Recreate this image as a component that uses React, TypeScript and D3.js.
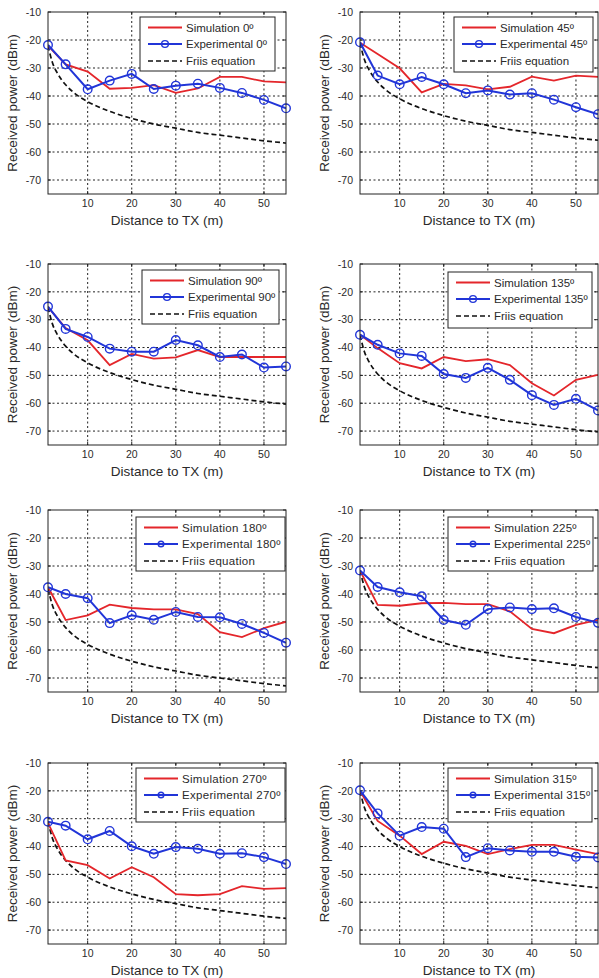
import React from "react";
import * as d3 from "d3";

// ---------- data ----------
const angles = [0, 45, 90, 135, 180, 225, 270, 315];
const distances = [1, 5, 10, 15, 20, 25, 30, 35, 40, 45, 50, 55];
const friisDistances = [1, 2, 3, 4, 5, 7, 10, 15, 20, 25, 30, 35, 40, 45, 50, 55];
const xTicks = [10, 20, 30, 40, 50];
const yTicks = [-10, -20, -30, -40, -50, -60, -70];

const simulationValues = [
  [-22, -28.7, -31.3, -37.4, -37.1, -36.1, -38.9, -37.3, -33.2, -33.2, -34.8, -35.1],
  [-21, -25, -30.1, -38.7, -35.7, -36.2, -37.6, -36.7, -33.1, -34.5, -32.7, -33.2],
  [-25.5, -33, -37.4, -46.3, -42.3, -44.0, -43.5, -40.9, -43.4, -43.4, -43.4, -43.4],
  [-35.4, -40.2, -45.6, -47.5, -43.4, -44.9, -44.2, -46.3, -52.8, -57.2, -51.6, -49.8],
  [-37.5, -49.3, -47.6, -43.8, -45.0, -45.5, -45.5, -47.2, -53.6, -55.4, -52.2, -49.9],
  [-31.6, -43.9, -44.2, -43.3, -43.2, -43.6, -43.6, -46.2, -52.5, -54.0, -51.0, -49.2],
  [-31.5, -45.0, -46.7, -51.5, -47.4, -51.0, -57.1, -57.5, -57.1, -54.2, -55.2, -54.9],
  [-20, -30.8, -36.1, -42.7, -38.3, -39.8, -42.7, -40.9, -39.4, -39.4, -41.1, -42.7],
];

const experimentalValues = [
  [-21.8, -28.7, -37.6, -34.5, -32.1, -37.5, -36.3, -35.6, -37.1, -38.9, -41.4, -44.4],
  [-20.8, -32.7, -35.8, -33.2, -35.8, -39.0, -38.0, -39.5, -39.0, -41.3, -44.0, -46.5],
  [-25.3, -33.3, -36.2, -40.4, -41.5, -41.5, -37.3, -39.2, -43.4, -42.5, -47.2, -46.8],
  [-35.4, -39.0, -42.1, -43.0, -49.5, -50.9, -47.3, -51.6, -57.1, -60.6, -58.4, -62.6],
  [-37.6, -40.0, -41.5, -50.4, -47.6, -49.2, -46.4, -48.2, -48.3, -50.7, -53.9, -57.4],
  [-31.6, -37.5, -39.4, -40.8, -49.3, -51.0, -45.4, -44.8, -45.4, -45.1, -48.2, -50.3],
  [-31.1, -32.5, -37.4, -34.4, -39.9, -42.6, -40.2, -40.8, -42.6, -42.4, -43.8, -46.3],
  [-19.8, -28.1, -36.1, -33.0, -33.6, -43.8, -40.6, -41.4, -41.9, -41.9, -43.7, -43.9],
];

const friisValues = [
  [-22, -28, -31.5, -34, -36, -39, -42, -45.5, -48, -50, -51.5, -53, -54, -55, -56, -56.8],
  [-21, -27, -30.5, -33, -35, -38, -41, -44.5, -47, -49, -50.5, -52, -53, -54, -55, -55.8],
  [-25.5, -31.5, -35, -37.5, -39.5, -42.5, -45.5, -49, -51.5, -53.5, -55, -56.5, -57.5, -58.5, -59.5, -60.3],
  [-35.5, -41.5, -45, -47.5, -49.5, -52.5, -55.5, -59, -61.5, -63.5, -65, -66.5, -67.5, -68.5, -69.5, -70.3],
  [-38, -44, -47.5, -50, -52, -55, -58, -61.5, -64, -66, -67.5, -69, -70, -71, -72, -72.8],
  [-31.5, -37.5, -41, -43.5, -45.5, -48.5, -51.5, -55, -57.5, -59.5, -61, -62.5, -63.5, -64.5, -65.5, -66.3],
  [-31, -37, -40.5, -43, -45, -48, -51, -54.5, -57, -59, -60.5, -62, -63, -64, -65, -65.8],
  [-20, -26, -29.5, -32, -34, -37, -40, -43.5, -46, -48, -49.5, -51, -52, -53, -54, -54.8],
];

// ---------- layout ----------
const W = 599;
const H = 978;
const colX = [
  [48, 286],
  [360, 598],
];
const rowY = [
  [12, 194],
  [264, 445],
  [510, 692],
  [763, 944],
];
const legendBoxes = [
  { x: 140, y: 17, w: 135, h: 54 },
  { x: 454, y: 17, w: 139, h: 55 },
  { x: 142, y: 270, w: 137, h: 54 },
  { x: 448, y: 272, w: 144, h: 56 },
  { x: 136, y: 517, w: 149, h: 54 },
  { x: 448, y: 517, w: 145, h: 54 },
  { x: 136, y: 768, w: 149, h: 54 },
  { x: 448, y: 768, w: 144, h: 54 },
];

const FONT = "'Liberation Sans', Arial, sans-serif";
const RED = "#e4262b";
const BLUE = "#2135d8";
const TEXT = "#2a2a2a";

function Panel({ i }: { i: number }) {
  const col = i % 2;
  const row = Math.floor(i / 2);
  const [x0, x1] = colX[col];
  const [y0, y1] = rowY[row];
  const x = d3.scaleLinear().domain([1, 55]).range([x0, x1]);
  const y = d3.scaleLinear().domain([-75, -10]).range([y1, y0]);

  const line = d3
    .line<[number, number]>()
    .x((d) => x(d[0]))
    .y((d) => y(d[1]));
  const smooth = d3
    .line<[number, number]>()
    .x((d) => x(d[0]))
    .y((d) => y(d[1]))
    .curve(d3.curveMonotoneX);

  const sim = distances.map((d, k) => [d, simulationValues[i][k]] as [number, number]);
  const exp = distances.map((d, k) => [d, experimentalValues[i][k]] as [number, number]);
  const fr = friisDistances.map((d, k) => [d, friisValues[i][k]] as [number, number]);
  const lg = legendBoxes[i];
  const angle = angles[i];
  const clipId = `clip${i}`;
  const spaced = row >= 2;
  const spacing = spaced ? (col === 0 ? 0.3 : 0.15) : 0;

  return (
    <g>
      <defs>
        <clipPath id={clipId}>
          <rect x={x0} y={y0} width={x1 - x0} height={y1 - y0} />
        </clipPath>
      </defs>
      <rect x={x0} y={y0} width={x1 - x0} height={y1 - y0} fill="#fff" />
      {/* grid */}
      {xTicks.map((t) => (
        <line
          key={"gx" + t}
          x1={x(t)}
          x2={x(t)}
          y1={y0}
          y2={y1}
          stroke="#222"
          strokeWidth={1}
          strokeDasharray="2,2.5"
        />
      ))}
      {yTicks.slice(1).map((t) => (
        <line
          key={"gy" + t}
          x1={x0}
          x2={x1}
          y1={y(t)}
          y2={y(t)}
          stroke="#222"
          strokeWidth={1}
          strokeDasharray="2,2.5"
        />
      ))}
      {/* ticks */}
      {xTicks.map((t) => (
        <g key={"tx" + t}>
          <line x1={x(t)} x2={x(t)} y1={y1} y2={y1 - 3} stroke="#222" />
          <line x1={x(t)} x2={x(t)} y1={y0} y2={y0 + 3} stroke="#222" />
          <text
            x={x(t)}
            y={y1 + 13}
            textAnchor="middle"
            fontSize={10.5}
            fontFamily={FONT}
            fill={TEXT}
          >
            {t}
          </text>
        </g>
      ))}
      {yTicks.map((t) => (
        <g key={"ty" + t}>
          <line x1={x0} x2={x0 + 3} y1={y(t)} y2={y(t)} stroke="#222" />
          <line x1={x1} x2={x1 - 3} y1={y(t)} y2={y(t)} stroke="#222" />
          <text
            x={x0 - 7}
            y={y(t) + 3.8}
            textAnchor="end"
            fontSize={10.5}
            fontFamily={FONT}
            fill={TEXT}
          >
            {t}
          </text>
        </g>
      ))}
      {/* series */}
      <g clipPath={`url(#${clipId})`}>
        <path d={smooth(fr) || ""} fill="none" stroke="#111" strokeWidth={1.7} strokeDasharray="5,3" />
        <path d={line(sim) || ""} fill="none" stroke={RED} strokeWidth={1.8} />
        <path d={line(exp) || ""} fill="none" stroke={BLUE} strokeWidth={2} />
      </g>
      {exp.map((p, k) => (
        <circle
          key={"m" + k}
          cx={x(p[0])}
          cy={y(p[1])}
          r={4.3}
          fill="none"
          stroke={BLUE}
          strokeWidth={1.4}
        />
      ))}
      {/* frame */}
      <rect x={x0} y={y0} width={x1 - x0} height={y1 - y0} fill="none" stroke="#222" strokeWidth={1} />
      {/* legend */}
      <g fontFamily={FONT} fontSize={11.5} fill={TEXT} letterSpacing={spacing}>
        <rect x={lg.x} y={lg.y} width={lg.w} height={lg.h} fill="#fff" stroke="#222" strokeWidth={1} />
        <line x1={lg.x + 8} x2={lg.x + 42} y1={lg.y + 10.5} y2={lg.y + 10.5} stroke={RED} strokeWidth={1.8} />
        <text x={lg.x + 46} y={lg.y + 14.5}>{`Simulation ${angle}º`}</text>
        <line x1={lg.x + 8} x2={lg.x + 42} y1={lg.y + 27} y2={lg.y + 27} stroke={BLUE} strokeWidth={2} />
        <circle cx={lg.x + 25} cy={lg.y + 27} r={spaced ? 2.8 : 3.4} fill="none" stroke={BLUE} strokeWidth={1.4} />
        <text x={lg.x + 46} y={lg.y + 31}>{`Experimental ${angle}º`}</text>
        <line
          x1={lg.x + 8}
          x2={lg.x + 42}
          y1={lg.y + 44}
          y2={lg.y + 44}
          stroke="#111"
          strokeWidth={1.7}
          strokeDasharray="5,3"
        />
        <text x={lg.x + 46} y={lg.y + 48}>Friis equation</text>
      </g>
      {/* axis titles */}
      <text
        x={(x0 + x1) / 2}
        y={y1 + 31}
        textAnchor="middle"
        fontSize={13.5}
        fontFamily={FONT}
        fill={TEXT}
      >
        Distance to TX (m)
      </text>
      <text
        transform={`translate(${x0 - 31},${(y0 + y1) / 2}) rotate(-90)`}
        textAnchor="middle"
        fontSize={13.5}
        fontFamily={FONT}
        fill={TEXT}
      >
        Received power (dBm)
      </text>
    </g>
  );
}

export default function App() {
  return (
    <svg
      width={W}
      height={H}
      viewBox={`0 0 ${W} ${H}`}
      style={{ position: "absolute", left: 0, top: 0, background: "#fff" }}
    >
      <rect x={0} y={0} width={W} height={H} fill="#fff" />
      {angles.map((a, i) => (
        <Panel key={a} i={i} />
      ))}
    </svg>
  );
}
